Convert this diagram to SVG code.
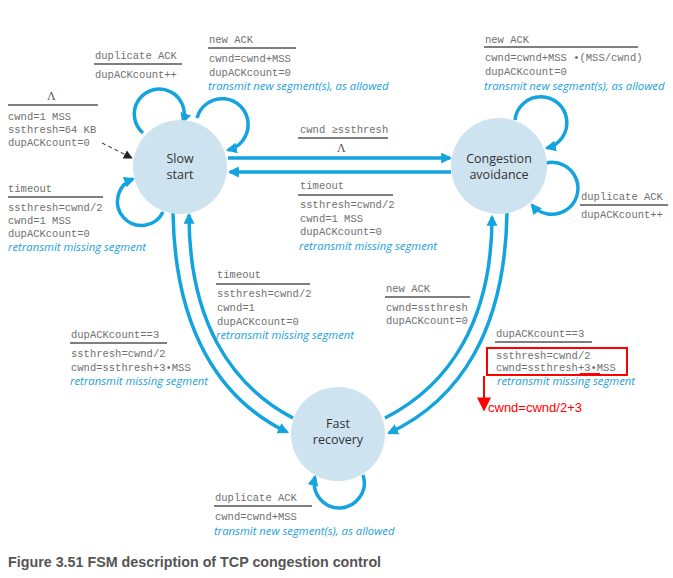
<svg xmlns="http://www.w3.org/2000/svg" width="673" height="578" viewBox="0 0 673 578">
<style>
.bg{fill:#ffffff}
.state{fill:#cde3f0}
.sname{font-family:"Open Sans","Noto Sans",sans-serif;font-size:12.5px;fill:#333;text-anchor:middle}
.mono{font-family:"Liberation Mono","Courier New",monospace;font-size:10.5px;fill:#707070}
.act{font-family:"Open Sans","Noto Sans",sans-serif;font-style:italic;font-size:11.3px;fill:#1aa0dc}
.rule{stroke:#555;stroke-width:1.3;fill:none}
.edge{stroke:#13a3df;stroke-width:3.5;fill:none;marker-end:url(#ah)}
.lam{font-family:"Liberation Serif","DejaVu Serif",serif;font-size:12px;fill:#555}
.red{stroke:#ff0000;fill:none}
</style>
<defs>
<marker id="ah" viewBox="0 0 10 10" refX="8" refY="5" markerUnits="userSpaceOnUse" markerWidth="11" markerHeight="11" orient="auto">
<path d="M0,0 L10,5 L0,10 z" fill="#13a3df"/>
</marker>
<marker id="ahk" viewBox="0 0 10 10" refX="9" refY="5" markerUnits="userSpaceOnUse" markerWidth="9" markerHeight="9" orient="auto">
<path d="M0,0 L10,5 L0,10 z" fill="#222"/>
</marker>
<marker id="ahr" viewBox="0 0 10 10" refX="9" refY="5" markerUnits="userSpaceOnUse" markerWidth="18" markerHeight="14" orient="auto">
<path d="M0,0 L10,5 L0,10 z" fill="#ff0000"/>
</marker>
</defs>
<rect class="bg" x="0" y="0" width="673" height="578"/>

<g id="connectors">
<path class="edge" d="M228,158 L450,158"/>
<path class="edge" d="M451,172 L230,172"/>
<path class="edge" d="M173,213 C175,330 220,400 287,432"/>
<path class="edge" d="M293,418 C230,385 189,320 189,215"/>
<path class="edge" d="M507,213 C505,330 460,400 389,433"/>
<path class="edge" d="M385,418 C450,385 492,320 492,217"/>
<path class="edge" d="M143,133 A25,25 0 1 1 183,122"/>
<path class="edge" d="M197,118 A26,26 0 1 1 228,150"/>
<path class="edge" d="M163,212 A24,24 0 1 1 133,179"/>
<path class="edge" d="M515,120 A26,26 0 1 1 547,148"/>
<path class="edge" d="M546,163 A26,26 0 1 1 532,205"/>
<path class="edge" d="M363,475 A25,25 0 1 1 315,477"/>
<path d="M102,143 L132,158" stroke="#222" stroke-width="1" stroke-dasharray="4,3" fill="none" marker-end="url(#ahk)"/>
</g>

<g id="slow-start">
<circle class="state" cx="180" cy="167" r="47"/>
<text class="sname" x="180" y="163">Slow</text>
<text class="sname" x="180" y="179">start</text>
</g>
<g id="congestion-avoidance">
<circle class="state" cx="499" cy="166" r="48"/>
<text class="sname" x="499" y="163">Congestion</text>
<text class="sname" x="499" y="179">avoidance</text>
</g>
<g id="fast-recovery">
<circle class="state" cx="338" cy="434" r="47"/>
<text class="sname" x="338" y="428">Fast</text>
<text class="sname" x="338" y="444">recovery</text>
</g>

<g id="label-init">
<text class="lam" x="47" y="100">Λ</text>
<line class="rule" x1="8" y1="105" x2="98" y2="105"/>
<text class="mono" x="8" y="120">cwnd=1 MSS</text>
<text class="mono" x="8" y="133">ssthresh=64 KB</text>
<text class="mono" x="8" y="146">dupACKcount=0</text>
</g>
<g id="label-ss-dup">
<text class="mono" x="95" y="59">duplicate ACK</text>
<line class="rule" x1="94" y1="64" x2="182" y2="64"/>
<text class="mono" x="95" y="78">dupACKcount++</text>
</g>
<g id="label-ss-new">
<text class="mono" x="209" y="43">new ACK</text>
<line class="rule" x1="208" y1="48" x2="296" y2="48"/>
<text class="mono" x="209" y="62">cwnd=cwnd+MSS</text>
<text class="mono" x="209" y="76">dupACKcount=0</text>
<text class="act" x="208" y="90">transmit new segment(s), as allowed</text>
</g>
<g id="label-ss-timeout">
<text class="mono" x="8" y="192">timeout</text>
<line class="rule" x1="8" y1="197" x2="103" y2="197"/>
<text class="mono" x="8" y="211">ssthresh=cwnd/2</text>
<text class="mono" x="8" y="224">cwnd=1 MSS</text>
<text class="mono" x="8" y="237">dupACKcount=0</text>
<text class="act" x="8" y="251">retransmit missing segment</text>
</g>
<g id="label-ss-ca">
<text class="mono" x="300" y="133">cwnd ≥ssthresh</text>
<line class="rule" x1="298" y1="138" x2="388" y2="138"/>
<text class="lam" x="337" y="152">Λ</text>
</g>
<g id="label-ca-timeout">
<text class="mono" x="300" y="189">timeout</text>
<line class="rule" x1="298" y1="195" x2="393" y2="195"/>
<text class="mono" x="300" y="208">ssthresh=cwnd/2</text>
<text class="mono" x="300" y="222">cwnd=1 MSS</text>
<text class="mono" x="300" y="235">dupACKcount=0</text>
<text class="act" x="299" y="250">retransmit missing segment</text>
</g>
<g id="label-ca-new">
<text class="mono" x="485" y="43">new ACK</text>
<line class="rule" x1="484" y1="47" x2="638" y2="47"/>
<text class="mono" x="485" y="61">cwnd=cwnd+MSS •(MSS/cwnd)</text>
<text class="mono" x="485" y="75">dupACKcount=0</text>
<text class="act" x="484" y="90">transmit new segment(s), as allowed</text>
</g>
<g id="label-ca-dup">
<text class="mono" x="581" y="200">duplicate ACK</text>
<line class="rule" x1="580" y1="205" x2="668" y2="205"/>
<text class="mono" x="581" y="218">dupACKcount++</text>
</g>
<g id="label-fr-timeout">
<text class="mono" x="217" y="278">timeout</text>
<line class="rule" x1="216" y1="284" x2="310" y2="284"/>
<text class="mono" x="217" y="297">ssthresh=cwnd/2</text>
<text class="mono" x="217" y="311">cwnd=1</text>
<text class="mono" x="217" y="325">dupACKcount=0</text>
<text class="act" x="216" y="339">retransmit missing segment</text>
</g>
<g id="label-fr-new">
<text class="mono" x="386" y="292">new ACK</text>
<line class="rule" x1="385" y1="297" x2="470" y2="297"/>
<text class="mono" x="386" y="311">cwnd=ssthresh</text>
<text class="mono" x="386" y="324">dupACKcount=0</text>
</g>
<g id="label-ss-fr">
<text class="mono" x="71" y="338">dupACKcount==3</text>
<line class="rule" x1="70" y1="343" x2="167" y2="343"/>
<text class="mono" x="71" y="357">ssthresh=cwnd/2</text>
<text class="mono" x="71" y="371">cwnd=ssthresh+3•MSS</text>
<text class="act" x="70" y="385">retransmit missing segment</text>
</g>
<g id="label-ca-fr">
<text class="mono" x="496" y="337">dupACKcount==3</text>
<line class="rule" x1="495" y1="342" x2="592" y2="342"/>
<text class="mono" x="496" y="359">ssthresh=cwnd/2</text>
<text class="mono" x="496" y="371">cwnd=ssthresh+3•MSS</text>
<text class="act" x="497" y="385">retransmit missing segment</text>
</g>
<g id="label-fr-dup">
<text class="mono" x="215" y="501">duplicate ACK</text>
<line class="rule" x1="214" y1="506" x2="312" y2="506"/>
<text class="mono" x="215" y="520">cwnd=cwnd+MSS</text>
<text class="act" x="214" y="535">transmit new segment(s), as allowed</text>
</g>

<g id="annotation">
<rect class="red" x="487" y="348" width="140" height="27" stroke-width="2"/>
<line class="red" x1="580" y1="374" x2="600" y2="374" stroke-width="2"/>
<line class="red" x1="484" y1="376" x2="484" y2="410" stroke-width="2" marker-end="url(#ahr)"/>
<text x="488" y="412" font-family="Liberation Sans, Arial, sans-serif" font-size="13" fill="#ff0000">cwnd=cwnd/2+3</text>
</g>

<text id="caption" x="8" y="567" font-family="Liberation Sans, Arial, sans-serif" font-size="14.3" font-weight="bold" fill="#555">Figure 3.51 FSM description of TCP congestion control</text>
</svg>
